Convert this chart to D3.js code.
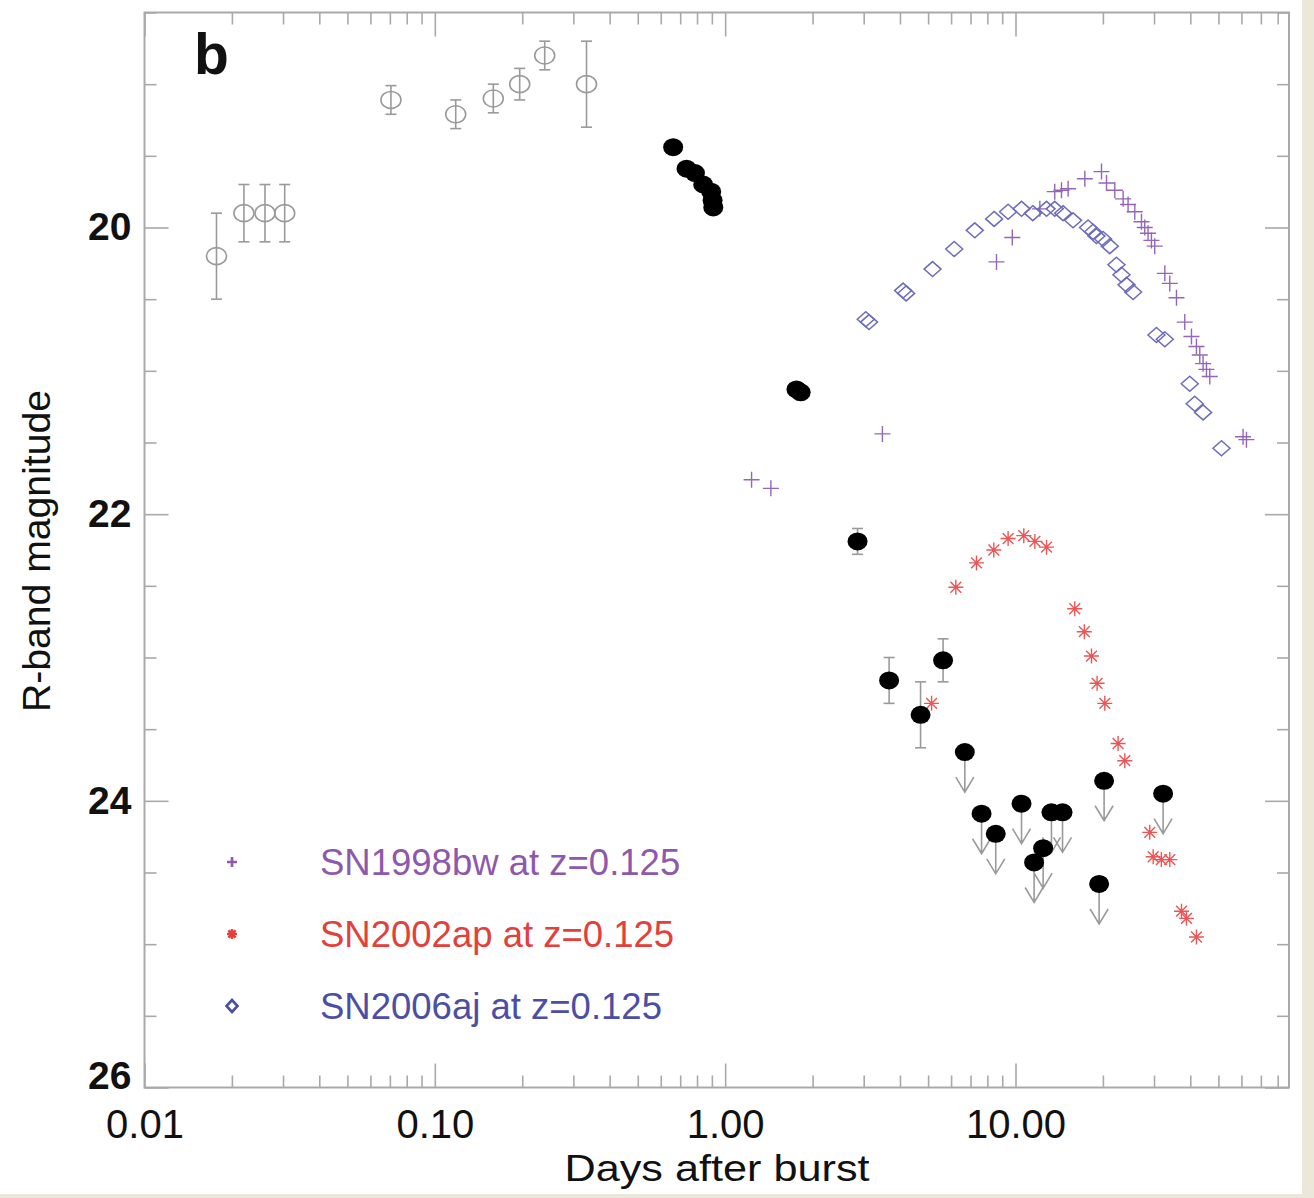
<!DOCTYPE html>
<html>
<head>
<meta charset="utf-8">
<script src="https://cdn.jsdelivr.net/npm/d3@7"></script>
<style>
  html, body { margin: 0; padding: 0; background: #ffffff; }
  svg { display: block; }
  text { font-family: "Liberation Sans", Arial, Helvetica, sans-serif; }
</style>
</head>
<body>
<svg id="chart" width="1314" height="1198"></svg>
<script>
// ---------- data (days after burst, R magnitude, 1-sigma error) ----------
// early photometry from other telescopes (open circles)
const earlyObs = [
  [0.0177, 20.20, 0.30], [0.0220, 19.90, 0.20], [0.0260, 19.90, 0.20],
  [0.0304, 19.90, 0.20], [0.0706, 19.11, 0.10], [0.118, 19.21, 0.10],
  [0.159, 19.10, 0.10], [0.196, 19.00, 0.11], [0.239, 18.80, 0.10],
  [0.333, 19.00, 0.30]
];
// afterglow detections (filled circles)
const detections = [
  [0.662, 19.44, 0.02], [0.736, 19.59, 0.02], [0.787, 19.62, 0.02],
  [0.840, 19.70, 0.02], [0.895, 19.75, 0.02], [0.905, 19.81, 0.02],
  [0.910, 19.86, 0.02], [1.76, 21.13, 0.03], [1.82, 21.15, 0.03],
  [2.857, 22.19, 0.09], [3.67, 23.16, 0.16], [4.71, 23.40, 0.23],
  [5.63, 23.02, 0.15]
];
// upper limits (filled circles with arrows)
const upperLimits = [
  [6.69, 23.66], [7.64, 24.09], [8.55, 24.23], [10.49, 24.02],
  [11.59, 24.43], [12.45, 24.33], [13.30, 24.08], [14.52, 24.08],
  [19.41, 24.58], [20.19, 23.86], [32.24, 23.95]
];
// SN1998bw redshifted to z=0.125
const sn1998bw = [
  [1.233, 21.76], [1.437, 21.82], [3.48, 21.44], [8.60, 20.24],
  [9.75, 20.07], [12.13, 19.87], [13.65, 19.75], [14.40, 19.74],
  [15.18, 19.73], [17.33, 19.66], [19.78, 19.61], [20.58, 19.69],
  [21.98, 19.74], [23.48, 19.80], [24.42, 19.84], [25.75, 19.89],
  [27.16, 19.96], [27.87, 20.00], [28.61, 20.04], [29.39, 20.09],
  [30.17, 20.13], [32.68, 20.32], [33.99, 20.39], [35.85, 20.49],
  [38.28, 20.66], [40.37, 20.76], [42.0, 20.83], [43.12, 20.89],
  [44.27, 20.95], [45.47, 20.99], [46.68, 21.04], [60.78, 21.46],
  [62.44, 21.48]
];
// SN2002ap redshifted to z=0.125
const sn2002ap = [
  [5.14, 23.32], [6.23, 22.51], [7.34, 22.34], [8.42, 22.25],
  [9.43, 22.17], [10.68, 22.15], [11.66, 22.19], [12.79, 22.23],
  [16.0, 22.66], [17.26, 22.82], [18.27, 22.99], [19.10, 23.18],
  [20.30, 23.32], [22.56, 23.60], [23.79, 23.72], [29.0, 24.22],
  [29.8, 24.39], [31.8, 24.41], [34.0, 24.41], [37.3, 24.77],
  [38.8, 24.82], [42.0, 24.95]
];
// SN2006aj redshifted to z=0.125
const sn2006aj = [
  [3.05, 20.64], [3.13, 20.66], [4.10, 20.44], [4.20, 20.46],
  [5.18, 20.29], [6.15, 20.15], [7.24, 20.02], [8.44, 19.94],
  [9.43, 19.89], [10.49, 19.87], [11.47, 19.90], [12.79, 19.87],
  [13.65, 19.87], [14.58, 19.90], [15.79, 19.95], [17.78, 20.00],
  [18.50, 20.03], [19.0, 20.06], [20.03, 20.08], [21.12, 20.13],
  [22.27, 20.26], [23.17, 20.33], [24.12, 20.40], [25.41, 20.45],
  [30.58, 20.75], [32.68, 20.78], [39.82, 21.09], [41.43, 21.23],
  [44.27, 21.29], [51.22, 21.54]
];
// axis ticks and labels
const xMajorTicks = [0.01, 0.1, 1, 10];
const xLabels = ["0.01", "0.10", "1.00", "10.00"];
const yMajorTicks = [20, 22, 24, 26];
const yLabels = ["20", "22", "24", "26"];
const legendItems = [
  { key: "plus", label: "SN1998bw at z=0.125", color: "#8e59ad" },
  { key: "asterisk", label: "SN2002ap at z=0.125", color: "#e2413b" },
  { key: "diamond", label: "SN2006aj at z=0.125", color: "#4c4ea6" }
];

// ---------- layout ----------
const svg = d3.select("#chart");
const W = 1314, H = 1198;
const plot = { left: 144.5, right: 1289, top: 12.5, bottom: 1087.5 };

// page with a beige margin strip along the right and bottom edges
svg.append("rect").attr("x", 0).attr("y", 0).attr("width", W).attr("height", H).attr("fill", "#ebe8d9");
svg.append("rect").attr("x", 0).attr("y", 0).attr("width", 1302).attr("height", 1194).attr("fill", "#ffffff");

const x = d3.scaleLog().domain([0.01, 87.5]).range([plot.left, plot.right]);
const y = d3.scaleLinear().domain([18.5, 26]).range([plot.top, plot.bottom]);

const axisColor = "#a9a9a9";
const majorLen = 24, minorLen = 12;

// minor tick values
const xMinor = [];
[0.01, 0.1, 1, 10].forEach(d => {
  for (let k = 2; k <= 9; k++) { const v = d * k; if (v <= x.domain()[1]) xMinor.push(v); }
});
const yMinor = d3.range(18.5, 26.01, 0.5).filter(v => !yMajorTicks.includes(v));

function styleAxis(g) {
  g.select(".domain").remove();
  g.selectAll(".tick line").attr("stroke", axisColor).attr("stroke-width", 1.6);
}

// bottom axis
svg.append("g").attr("transform", `translate(0,${plot.bottom})`)
  .call(d3.axisBottom(x).tickValues(xMinor).tickSize(-minorLen).tickFormat(""))
  .call(styleAxis);
const gxb = svg.append("g").attr("transform", `translate(0,${plot.bottom})`)
  .call(d3.axisBottom(x).tickValues(xMajorTicks).tickSize(-majorLen).tickPadding(22)
    .tickFormat((d, i) => xLabels[i]))
  .call(styleAxis);
gxb.selectAll(".tick text").attr("fill", "#111").attr("font-size", 40)
  .attr("font-family", '"Liberation Sans", Arial, sans-serif');

// top axis
svg.append("g").attr("transform", `translate(0,${plot.top})`)
  .call(d3.axisTop(x).tickValues(xMinor).tickSize(-minorLen).tickFormat(""))
  .call(styleAxis);
svg.append("g").attr("transform", `translate(0,${plot.top})`)
  .call(d3.axisTop(x).tickValues(xMajorTicks).tickSize(-majorLen).tickFormat(""))
  .call(styleAxis);

// left axis
svg.append("g").attr("transform", `translate(${plot.left},0)`)
  .call(d3.axisLeft(y).tickValues(yMinor).tickSize(-minorLen).tickFormat(""))
  .call(styleAxis);
const gyl = svg.append("g").attr("transform", `translate(${plot.left},0)`)
  .call(d3.axisLeft(y).tickValues(yMajorTicks).tickSize(-majorLen).tickPadding(13)
    .tickFormat((d, i) => yLabels[i]))
  .call(styleAxis);
gyl.selectAll(".tick text").attr("fill", "#111").attr("font-size", 39)
  .attr("font-weight", "bold").attr("font-family", '"Liberation Sans", Arial, sans-serif');
// keep the lowest label inside the frame's vertical extent
gyl.selectAll(".tick").filter(d => d === 26).select("text").attr("dy", "0.32em").attr("y", -11);

// right axis
svg.append("g").attr("transform", `translate(${plot.right},0)`)
  .call(d3.axisRight(y).tickValues(yMinor).tickSize(-minorLen).tickFormat(""))
  .call(styleAxis);
svg.append("g").attr("transform", `translate(${plot.right},0)`)
  .call(d3.axisRight(y).tickValues(yMajorTicks).tickSize(-majorLen).tickFormat(""))
  .call(styleAxis);

// frame
svg.append("rect")
  .attr("x", plot.left).attr("y", plot.top)
  .attr("width", plot.right - plot.left).attr("height", plot.bottom - plot.top)
  .attr("fill", "none").attr("stroke", axisColor).attr("stroke-width", 2);

// axis titles
svg.append("text").attr("x", 717).attr("y", 1181).attr("text-anchor", "middle")
  .attr("font-size", 37).attr("fill", "#111")
  .attr("textLength", 305).attr("lengthAdjust", "spacingAndGlyphs")
  .text("Days after burst");
svg.append("text").attr("transform", "translate(50,551) rotate(-90)").attr("text-anchor", "middle")
  .attr("font-size", 39).attr("fill", "#111")
  .attr("textLength", 322).attr("lengthAdjust", "spacingAndGlyphs")
  .text("R-band magnitude");

// panel letter
svg.append("text").attr("x", 194).attr("y", 74).attr("font-size", 57)
  .attr("font-weight", "bold").attr("fill", "#111").text("b");

// ---------- marker shapes ----------
const plusPath = r => `M${-r},0H${r}M0,${-r}V${r}`;
const asteriskPath = r => {
  const d = r * 0.72;
  return `M${-r},0H${r}M0,${-r}V${r}M${-d},${-d}L${d},${d}M${-d},${d}L${d},${-d}`;
};
const diamondPath = (rx, ry) => `M0,${-ry}L${rx},0L0,${ry}L${-rx},0Z`;

const gray = "#9a9a9a";

// supernova templates
svg.append("g").selectAll("path").data(sn1998bw).join("path")
  .attr("transform", d => `translate(${x(d[0])},${y(d[1])})`)
  .attr("d", plusPath(8)).attr("fill", "none")
  .attr("stroke", "#9466b8").attr("stroke-width", 1.4);

svg.append("g").selectAll("path").data(sn2006aj).join("path")
  .attr("transform", d => `translate(${x(d[0])},${y(d[1])})`)
  .attr("d", diamondPath(8.5, 7.5)).attr("fill", "none")
  .attr("stroke", "#6c6cbc").attr("stroke-width", 1.5);

svg.append("g").selectAll("path").data(sn2002ap).join("path")
  .attr("transform", d => `translate(${x(d[0])},${y(d[1])})`)
  .attr("d", asteriskPath(7.5)).attr("fill", "none")
  .attr("stroke", "#ea5656").attr("stroke-width", 1.4);

// early photometry: error bars and open circles
const gEarly = svg.append("g");
const eb = gEarly.selectAll("g").data(earlyObs).join("g");
eb.append("line")
  .attr("x1", d => x(d[0])).attr("x2", d => x(d[0]))
  .attr("y1", d => y(d[1] - d[2])).attr("y2", d => y(d[1] + d[2]))
  .attr("stroke", gray).attr("stroke-width", 1.6);
eb.selectAll("line.cap").data(d => [[d[0], d[1] - d[2]], [d[0], d[1] + d[2]]]).join("line")
  .attr("class", "cap")
  .attr("x1", d => x(d[0]) - 5.5).attr("x2", d => x(d[0]) + 5.5)
  .attr("y1", d => y(d[1])).attr("y2", d => y(d[1]))
  .attr("stroke", gray).attr("stroke-width", 1.6);
eb.append("ellipse")
  .attr("cx", d => x(d[0])).attr("cy", d => y(d[1]))
  .attr("rx", 10).attr("ry", 8.5)
  .attr("fill", "none").attr("stroke", gray).attr("stroke-width", 1.6);

// afterglow detections: error bars
const gDet = svg.append("g");
const db = gDet.selectAll("g").data(detections.filter(d => d[2] >= 0.05)).join("g");
db.append("line")
  .attr("x1", d => x(d[0])).attr("x2", d => x(d[0]))
  .attr("y1", d => y(d[1] - d[2])).attr("y2", d => y(d[1] + d[2]))
  .attr("stroke", gray).attr("stroke-width", 1.6);
db.selectAll("line.cap").data(d => [[d[0], d[1] - d[2]], [d[0], d[1] + d[2]]]).join("line")
  .attr("class", "cap")
  .attr("x1", d => x(d[0]) - 5.5).attr("x2", d => x(d[0]) + 5.5)
  .attr("y1", d => y(d[1])).attr("y2", d => y(d[1]))
  .attr("stroke", gray).attr("stroke-width", 1.6);

// upper-limit arrows
const arrowLen = 40, headW = 9, headH = 15;
svg.append("g").selectAll("path").data(upperLimits).join("path")
  .attr("transform", d => `translate(${x(d[0])},${y(d[1])})`)
  .attr("d", `M0,0V${arrowLen}M${-headW},${arrowLen - headH}L0,${arrowLen}L${headW},${arrowLen - headH}`)
  .attr("fill", "none").attr("stroke", gray).attr("stroke-width", 1.6);

// filled circles for detections and limits
svg.append("g").selectAll("ellipse").data(detections.concat(upperLimits)).join("ellipse")
  .attr("cx", d => x(d[0])).attr("cy", d => y(d[1]))
  .attr("rx", 10).attr("ry", 9).attr("fill", "#000");

// ---------- legend ----------
const legendX = 232, textX = 320, legendY0 = 862, legendStep = 72;
const lg = svg.append("g");
legendItems.forEach((item, i) => {
  const cy = legendY0 + i * legendStep;
  let d;
  if (item.key === "plus") d = plusPath(5);
  else if (item.key === "asterisk") d = asteriskPath(5);
  else d = diamondPath(5.5, 6);
  lg.append("path").attr("transform", `translate(${legendX},${cy})`)
    .attr("d", d).attr("fill", "none").attr("stroke", item.color).attr("stroke-width", 2.6);
  lg.append("text").attr("x", textX).attr("y", cy + 13)
    .attr("font-size", 36.5).attr("fill", item.color).text(item.label);
});
</script>
</body>
</html>
